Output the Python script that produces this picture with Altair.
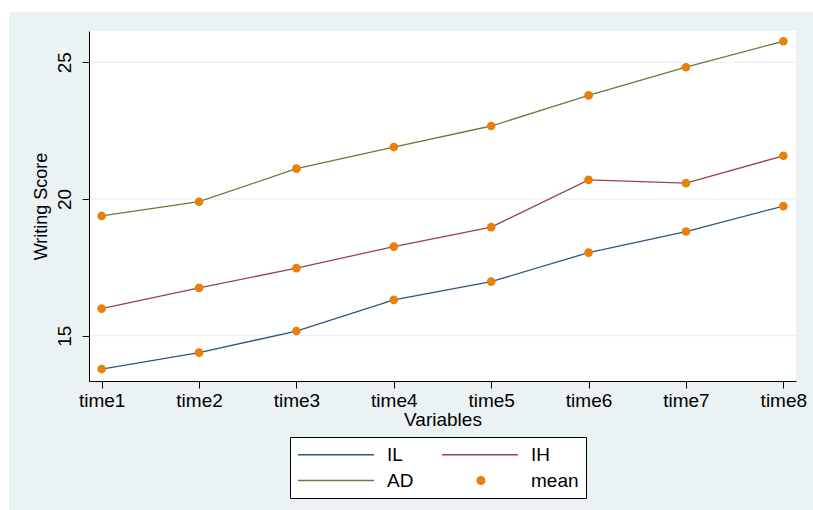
import altair as alt
import pandas as pd

times = ["time1", "time2", "time3", "time4", "time5", "time6", "time7", "time8"]
il = [13.78, 14.38, 15.17, 16.31, 16.98, 18.04, 18.81, 19.74]
ih = [15.99, 16.75, 17.47, 18.26, 18.97, 20.70, 20.58, 21.58]
ad = [19.38, 19.90, 21.11, 21.90, 22.67, 23.79, 24.82, 25.77]
series_names = ["IL", "IH", "AD", "mean"]
series_colors = ["#2E5680", "#9A4449", "#5F8038", "#E8800B"]
y_ticks = [15, 20, 25]

W, H = 707, 350
FONT = "Liberation Sans"

rows = []
for name, vals in (("IL", il), ("IH", ih), ("AD", ad)):
    for t, v in zip(times, vals):
        rows.append({"time": t, "value": v, "series": name})
df = pd.DataFrame(rows)
grid_df = pd.DataFrame({"value": y_ticks})
one = alt.Data(values=[{}])

x_enc = alt.X(
    "time:N", sort=times,
    scale=alt.Scale(type="point", padding=0.13),
    axis=alt.Axis(title="Variables", labelAngle=0, labelFontSize=19, titleFontSize=19,
                  labelFont=FONT, titleFont=FONT, titleFontWeight="normal",
                  labelColor="black", titleColor="black", domainColor="black",
                  tickColor="black", tickSize=7, labelPadding=3, titlePadding=0,
                  grid=False, zindex=1),
)
y_enc = alt.Y(
    "value:Q",
    scale=alt.Scale(domain=[13.343, 26.145], nice=False, zero=False),
    axis=alt.Axis(title="Writing Score", values=y_ticks, labelAngle=270,
                  labelFontSize=19, titleFontSize=18, labelFont=FONT, titleFont=FONT,
                  titleFontWeight="normal", labelColor="black", titleColor="black",
                  domainColor="black", tickColor="black", tickSize=7, labelPadding=8,
                  titlePadding=5, grid=False, zindex=1),
)

bg = alt.Chart(one).mark_rect(color="#EAF2F3", clip=False).encode(
    x=alt.value(-80), x2=alt.value(724), y=alt.value(-19), y2=alt.value(479))
plotbg = alt.Chart(one).mark_rect(color="white").encode(
    x=alt.value(0), x2=alt.value(W), y=alt.value(0), y2=alt.value(H))
grid = alt.Chart(grid_df).mark_rule(color="#E4EDF1", strokeWidth=1).encode(
    y=y_enc, x=alt.value(0), x2=alt.value(W))


def ring(cx, r):
    return f"M{cx - r:.3f},0A{r:.3f},{r:.3f},0,1,0,{cx + r:.3f},0A{r:.3f},{r:.3f},0,1,0,{cx - r:.3f},0Z"


dot_path = "".join(ring(3.1, r) for r in (0.05, 0.17, 0.29, 0.41))
line_path = "M-1,0H7"

legend = alt.Legend(
    title=None, orient="none", legendX=201, legendY=406, columns=2, direction="horizontal",
    symbolType={"expr": f"datum.value === 'mean' ? '{dot_path}' : '{line_path}'"},
    symbolSize=361, symbolStrokeWidth=1.3,
    labelExpr="datum.label === 'mean' ? 'mean  ' : datum.label",
    labelFontSize=19, labelFont=FONT, labelColor="black", labelOffset=69,
    padding=7, columnPadding=25, rowPadding=5,
    strokeColor="black", fillColor="white", cornerRadius=0,
)

lines = alt.Chart(df).mark_line(strokeWidth=1.3).encode(
    x=x_enc, y=y_enc,
    color=alt.Color("series:N", scale=alt.Scale(domain=series_names, range=series_colors),
                    legend=legend),
)
points = alt.Chart(df).mark_point(filled=True, size=75, shape="circle", opacity=1,
                                  color="#E8800B").encode(x=x_enc, y=y_enc, detail="series:N")

chart = alt.layer(bg, plotbg, grid, lines, points).properties(
    width=W, height=H,
    autosize=alt.AutoSizeParams(type="none"),
    padding={"left": 89, "top": 31, "right": 17, "bottom": 129},
    background="white",
).configure_view(stroke=None)

chart.save("out.html", embed_options={"renderer": "svg", "actions": False})
